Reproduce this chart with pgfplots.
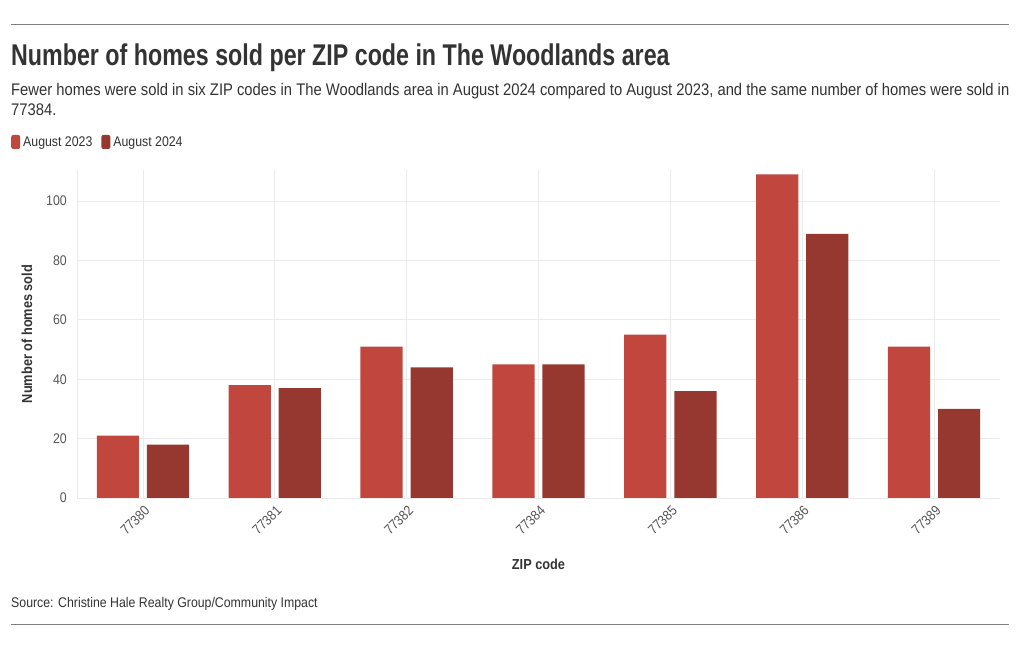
\documentclass[border=0pt]{standalone}
\usepackage{fontspec}
\setmainfont{Liberation Sans}[FakeStretch=0.88]
\newfontfamily\titlefont{Liberation Sans}[FakeStretch=0.775]
\usepackage{pgfplots}
\pgfplotsset{compat=1.18}
\definecolor{cA}{HTML}{C1463E}
\definecolor{cB}{HTML}{963830}
\definecolor{gridc}{HTML}{EBEBEB}
\definecolor{txt}{HTML}{333333}
\definecolor{tickc}{HTML}{555555}
\definecolor{rulec}{HTML}{808080}
\begin{document}
\begin{tikzpicture}[x=1pt,y=1pt]
\useasboundingbox (0,0) rectangle (1020,650);
\draw[rulec, line width=1pt] (11,625) -- (1009,625);
\draw[rulec, line width=1pt] (11,25) -- (1009,25);
\node[anchor=base west, inner sep=0, text=txt, font=\fontsize{30}{36}\selectfont\titlefont\bfseries] at (11,584) {Number of homes sold per ZIP code in The Woodlands area};
\node[anchor=base west, inner sep=0, text=txt, font=\fontsize{16.8}{20}\selectfont] at (11,554) {Fewer homes were sold in six ZIP codes in The Woodlands area in August 2024 compared to August 2023, and the same number of homes were sold in};
\node[anchor=base west, inner sep=0, text=txt, font=\fontsize{16.8}{20}\selectfont] at (11,534) {77384.};
\node[anchor=base west, inner sep=0, text=txt, font=\fontsize{14}{17}\selectfont] at (11,42) {Source: Christine Hale Realty Group/Community Impact};
\begin{axis}[
  at={(77pt,152pt)}, anchor=south west, scale only axis,
  width=923pt, height=328pt,
  xmin=-0.5, xmax=6.5, ymin=0, ymax=110.5,
  ybar, bar width=0.32,
  xtick={0,...,6},
  xticklabels={77380,77381,77382,77384,77385,77386,77389},
  ytick={0,20,40,60,80,100},
  axis x line*=bottom, axis y line*=left,
  axis line style={gridc, line width=0.8pt, -},
  major tick length=0pt,
  grid=major, major grid style={gridc, line width=0.8pt},
  tick label style={text=tickc, font=\fontsize{14}{16}\selectfont},
  /pgf/number format/assume math mode=true,
  xticklabel style={rotate=45, anchor=north east, inner sep=2pt, yshift=-3pt, xshift=-2pt},
  yticklabel style={inner sep=4pt, xshift=-6pt},
  xlabel={ZIP code}, ylabel={Number of homes sold},
  label style={text=txt, font=\fontsize{14.5}{16}\selectfont\bfseries},
  xlabel style={at={(axis description cs:0.5,-0.2012)}, anchor=center},
  ylabel style={at={(axis description cs:-0.0542,0.5)}, anchor=center},
  legend style={draw=none, fill=none, at={(axis description cs:-0.0715,1.0854)}, anchor=west,
    inner sep=0pt, font=\fontsize{14}{16}\selectfont, text=txt,
    nodes={inner sep=3pt},
    /tikz/every even column/.append style={column sep=6pt}},
  legend columns=2, legend cell align=left,
  legend image code/.code={\fill[#1, draw=none, rounded corners=2pt] (0pt,-7pt) rectangle (9pt,7pt);},
]
\addplot[fill=cA, draw=none, bar shift=-0.19] coordinates {(0,21) (1,38) (2,51) (3,45) (4,55) (5,109) (6,51)};
\addplot[fill=cB, draw=none, bar shift=0.19] coordinates {(0,18) (1,37) (2,44) (3,45) (4,36) (5,89) (6,30)};
\legend{August 2023, August 2024}
\end{axis}
\end{tikzpicture}
\end{document}
